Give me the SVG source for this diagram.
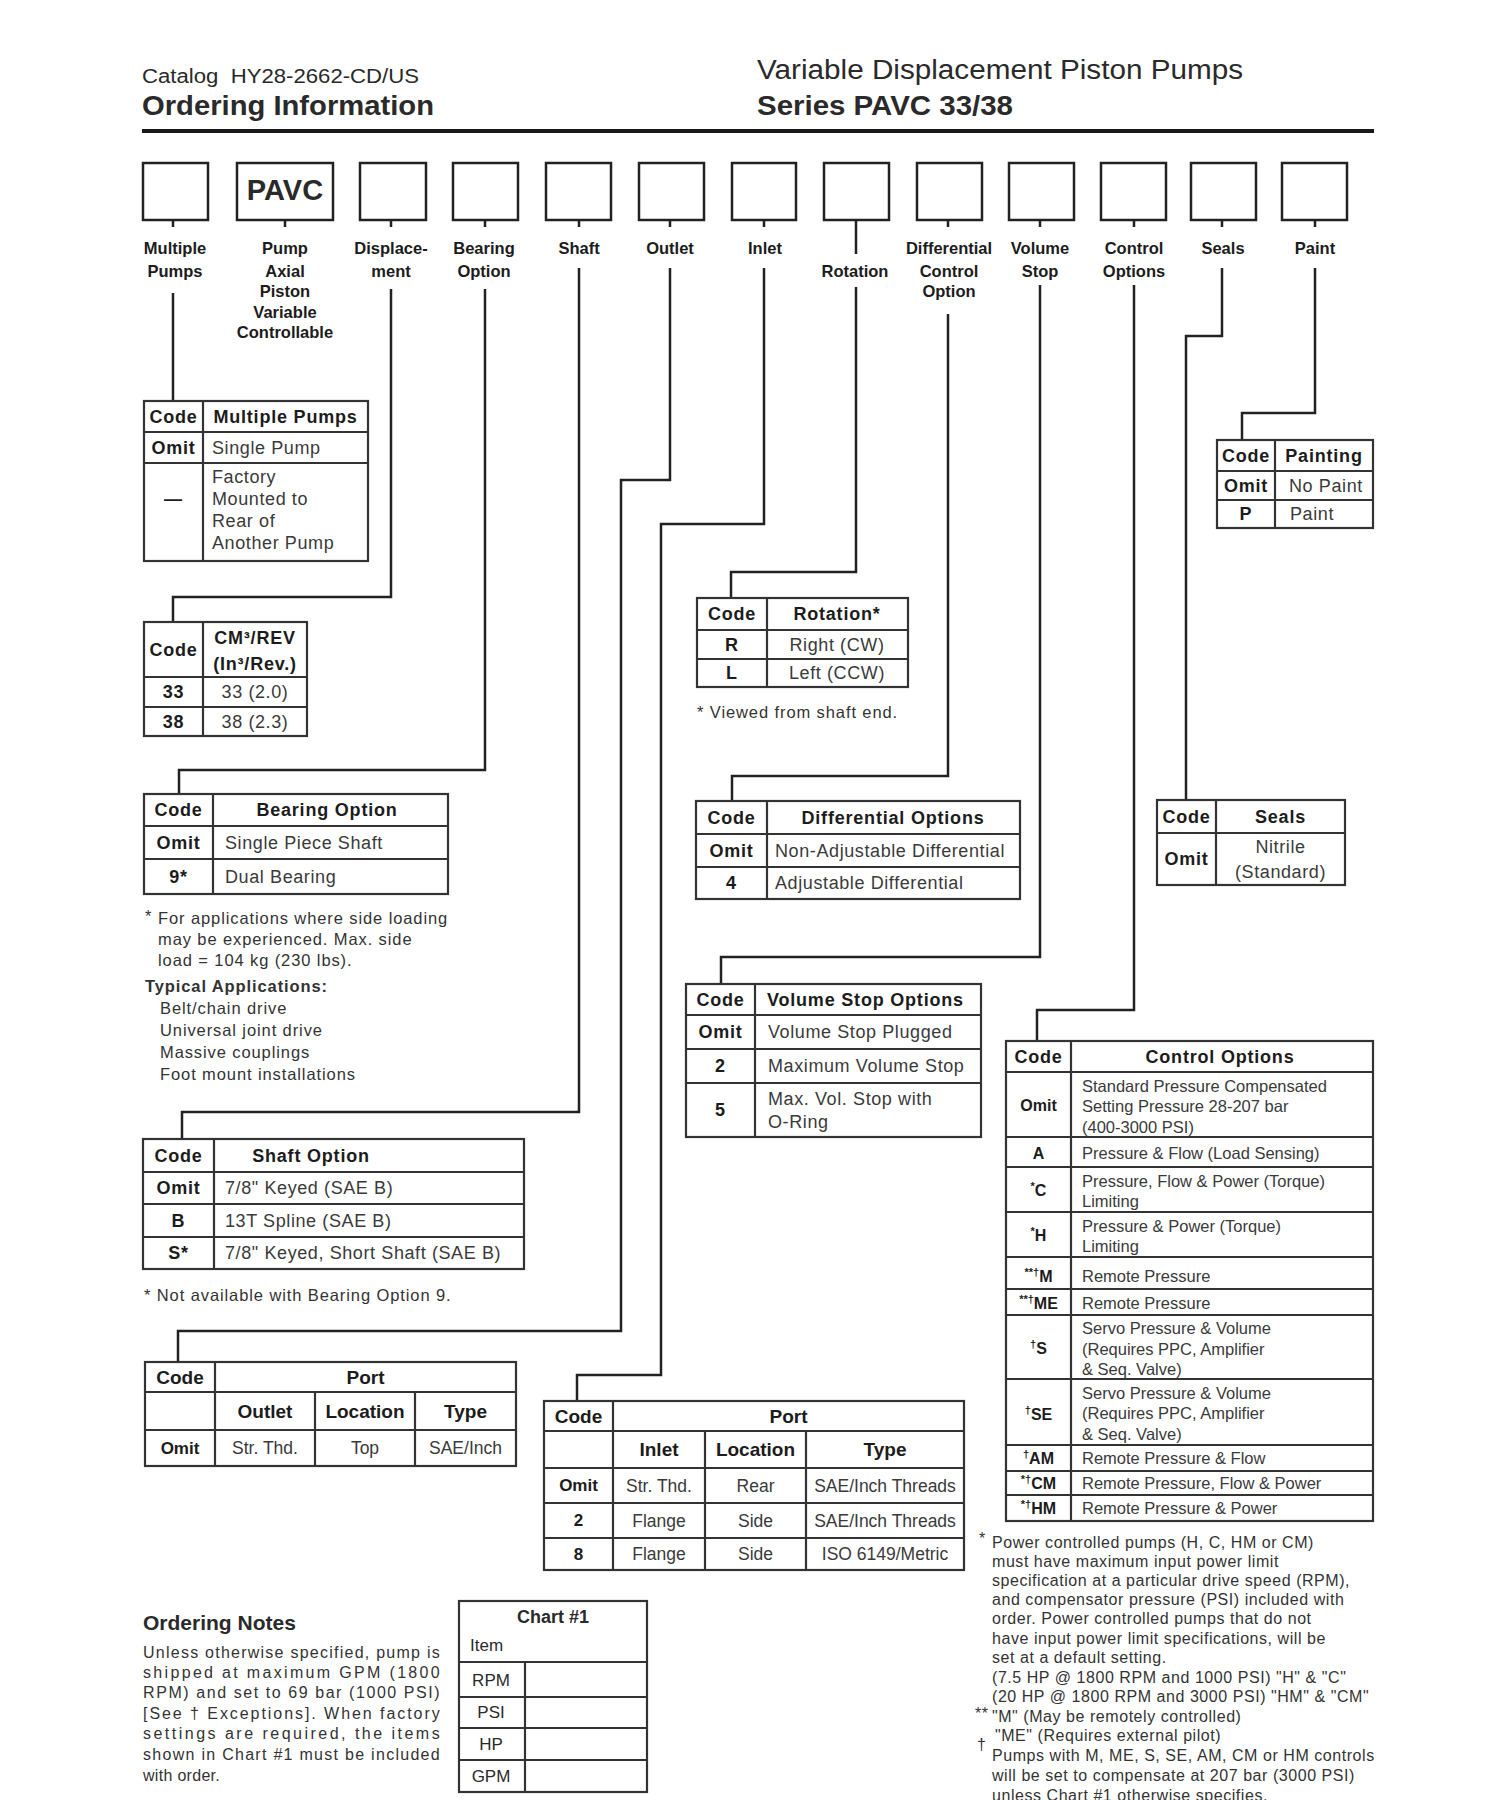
<svg xmlns="http://www.w3.org/2000/svg" width="1500" height="1800" viewBox="0 0 1500 1800">
<style>
text{font-family:"Liberation Sans",Arial,Helvetica,sans-serif;fill:#2a2a2a;dominant-baseline:central}
.c{text-anchor:middle}
.th{font-size:18px;font-weight:bold;letter-spacing:0.8px;fill:#1c1c1c}
.td{font-size:18px;letter-spacing:0.6px;fill:#3a3a3a}
.lab{font-size:16.5px;font-weight:bold;fill:#1c1c1c;text-anchor:middle}
.fn{font-size:16px;letter-spacing:0.3px;fill:#333}
.fc{font-size:16px;letter-spacing:0.55px;fill:#333}
.fw{font-size:16.5px;letter-spacing:0.9px;fill:#333}
.cs{font-size:16.5px;fill:#3a3a3a}
.cc{font-size:16px;font-weight:bold;fill:#1c1c1c;text-anchor:middle}
.ph{font-size:19px;font-weight:bold;fill:#1c1c1c;text-anchor:middle}
.ps{font-size:17.5px;fill:#3a3a3a;text-anchor:middle}
.pc{font-size:17px;font-weight:bold;fill:#1c1c1c;text-anchor:middle}
.box{fill:#fff;stroke:#222;stroke-width:2.5}
.tbl{fill:#fff;stroke:#333;stroke-width:2.2}
.ln{stroke:#333;stroke-width:2.2;fill:none}
.conn{fill:none;stroke:#222;stroke-width:2.5}
</style>

<g id="header">
<text x="142" y="76" font-size="20" textLength="277" lengthAdjust="spacingAndGlyphs" fill="#333" xml:space="preserve">Catalog  HY28-2662-CD/US</text>
<text x="142" y="106" font-size="27" font-weight="bold" textLength="292" lengthAdjust="spacingAndGlyphs" fill="#1a1a1a">Ordering Information</text>
<text x="757" y="70" font-size="27" textLength="486" lengthAdjust="spacingAndGlyphs" fill="#333">Variable Displacement Piston Pumps</text>
<text x="757" y="106" font-size="27" font-weight="bold" textLength="256" lengthAdjust="spacingAndGlyphs" fill="#1a1a1a">Series PAVC 33/38</text>
<rect x="142" y="129" width="1232" height="4" fill="#1a1a1a"/>
</g>

<g id="code-boxes">
<g id="box-multiple"><rect class="box" x="143" y="163" width="65" height="57"/></g>
<g id="box-pavc"><rect class="box" x="237" y="163" width="96" height="57"/><text x="285" y="190" class="c" font-size="29" font-weight="bold" fill="#1a1a1a">PAVC</text></g>
<g id="box-displacement"><rect class="box" x="360" y="163" width="66" height="57"/></g>
<g id="box-bearing"><rect class="box" x="453" y="163" width="65" height="57"/></g>
<g id="box-shaft"><rect class="box" x="546" y="163" width="65" height="57"/></g>
<g id="box-outlet"><rect class="box" x="639" y="163" width="65" height="57"/></g>
<g id="box-inlet"><rect class="box" x="732" y="163" width="64" height="57"/></g>
<g id="box-rotation"><rect class="box" x="824" y="163" width="65" height="57"/></g>
<g id="box-differential"><rect class="box" x="917" y="163" width="65" height="57"/></g>
<g id="box-volume"><rect class="box" x="1009" y="163" width="65" height="57"/></g>
<g id="box-control"><rect class="box" x="1101" y="163" width="65" height="57"/></g>
<g id="box-seals"><rect class="box" x="1191" y="163" width="65" height="57"/></g>
<g id="box-paint"><rect class="box" x="1282" y="163" width="65" height="57"/></g>
</g>

<g id="labels">
<text class="lab" x="175" y="248">Multiple</text><text class="lab" x="175" y="271">Pumps</text>
<text class="lab" x="285" y="248">Pump</text><text class="lab" x="285" y="271">Axial</text><text class="lab" x="285" y="291">Piston</text><text class="lab" x="285" y="312">Variable</text><text class="lab" x="285" y="332">Controllable</text>
<text class="lab" x="391" y="248">Displace-</text><text class="lab" x="391" y="271">ment</text>
<text class="lab" x="484" y="248">Bearing</text><text class="lab" x="484" y="271">Option</text>
<text class="lab" x="579" y="248">Shaft</text>
<text class="lab" x="670" y="248">Outlet</text>
<text class="lab" x="765" y="248">Inlet</text>
<text class="lab" x="855" y="271">Rotation</text>
<text class="lab" x="949" y="248">Differential</text><text class="lab" x="949" y="271">Control</text><text class="lab" x="949" y="291">Option</text>
<text class="lab" x="1040" y="248">Volume</text><text class="lab" x="1040" y="271">Stop</text>
<text class="lab" x="1134" y="248">Control</text><text class="lab" x="1134" y="271">Options</text>
<text class="lab" x="1223" y="248">Seals</text>
<text class="lab" x="1315" y="248">Paint</text>
</g>

<g id="connectors" class="conn">
<path d="M173 220V227M285 220V227M391 220V227M485 220V227M579 220V227M670 220V227M764 220V227M948 220V227M1040 220V227M1134 220V227M1222 220V227M1315 220V227"/>
<path d="M173 293V401"/>
<path d="M391 289V597H173V622"/>
<path d="M485 289V770H179V794"/>
<path d="M579 268V1112H182V1139"/>
<path d="M670 268V480H621V1331H178V1362"/>
<path d="M764 268V524H661V1375H577V1401"/>
<path d="M856 220V254M856 287V572H731V598"/>
<path d="M948 314V776H732V801"/>
<path d="M1040 285V957H721V984"/>
<path d="M1134 285V1010H1037V1041"/>
<path d="M1222 268V336H1186V800"/>
<path d="M1315 268V413H1242V440"/>
</g>

<g id="t-multiple">
<rect class="tbl" x="144" y="401" width="224" height="160"/>
<path class="ln" d="M144 432H368M144 463H368M203 401V561"/>
<text class="th c" x="173.5" y="416.5">Code</text>
<text class="th c" x="285.5" y="416.5">Multiple Pumps</text>
<text class="th c" x="173.5" y="447.5">Omit</text>
<text class="td" x="212" y="447.5">Single Pump</text>
<text class="th c" x="173.5" y="499">—</text>
<text class="td" x="212" y="477">Factory</text>
<text class="td" x="212" y="499">Mounted to</text>
<text class="td" x="212" y="521">Rear of</text>
<text class="td" x="212" y="543">Another Pump</text>
</g>

<g id="t-displacement">
<rect class="tbl" x="144" y="622" width="163" height="114"/>
<path class="ln" d="M144 677H307M144 707H307M203 622V736"/>
<text class="th c" x="173.5" y="649.5">Code</text>
<text class="th c" x="255" y="638">CM³/REV</text>
<text class="th c" x="255" y="664">(In³/Rev.)</text>
<text class="th c" x="173.5" y="692">33</text>
<text class="td c" x="255" y="692">33 (2.0)</text>
<text class="th c" x="173.5" y="721.5">38</text>
<text class="td c" x="255" y="721.5">38 (2.3)</text>
</g>

<g id="t-bearing">
<rect class="tbl" x="144" y="794" width="304" height="100"/>
<path class="ln" d="M144 826H448M144 859H448M213 794V894"/>
<text class="th c" x="178.5" y="810">Code</text>
<text class="th c" x="327" y="810">Bearing Option</text>
<text class="th c" x="178.5" y="842.5">Omit</text>
<text class="td" x="225" y="842.5">Single Piece Shaft</text>
<text class="th c" x="178.5" y="876.5">9*</text>
<text class="td" x="225" y="876.5">Dual Bearing</text>
</g>
<g id="bearing-notes">
<text class="fw" x="145" y="916">*</text>
<text class="fw" x="158" y="918">For applications where side loading</text>
<text class="fw" x="158" y="939">may be experienced. Max. side</text>
<text class="fw" x="158" y="960">load = 104 kg (230 lbs).</text>
<text class="fw" x="145" y="986" font-weight="bold" fill="#1c1c1c">Typical Applications:</text>
<text class="fw" x="160" y="1008">Belt/chain drive</text>
<text class="fw" x="160" y="1030">Universal joint drive</text>
<text class="fw" x="160" y="1052">Massive couplings</text>
<text class="fw" x="160" y="1074">Foot mount installations</text>
</g>

<g id="t-shaft">
<rect class="tbl" x="143" y="1139" width="381" height="130"/>
<path class="ln" d="M143 1172H524M143 1204H524M143 1237H524M214 1139V1269"/>
<text class="th c" x="178.5" y="1155.5">Code</text>
<text class="th c" x="311" y="1155.5">Shaft Option</text>
<text class="th c" x="178.5" y="1188">Omit</text>
<text class="td" x="225" y="1188">7/8" Keyed (SAE B)</text>
<text class="th c" x="178.5" y="1220.5">B</text>
<text class="td" x="225" y="1220.5">13T Spline (SAE B)</text>
<text class="th c" x="178.5" y="1253">S*</text>
<text class="td" x="225" y="1253">7/8" Keyed, Short Shaft (SAE B)</text>
</g>
<text class="fw" x="144" y="1295">* Not available with Bearing Option 9.</text>

<g id="t-rotation">
<rect class="tbl" x="697" y="598" width="211" height="89"/>
<path class="ln" d="M697 630H908M697 659H908M767 598V687"/>
<text class="th c" x="732" y="614">Code</text>
<text class="th c" x="837" y="614">Rotation*</text>
<text class="th c" x="732" y="644.5">R</text>
<text class="td c" x="837" y="644.5">Right (CW)</text>
<text class="th c" x="732" y="673">L</text>
<text class="td c" x="837" y="673">Left (CCW)</text>
</g>
<text class="fw" x="697" y="712">* Viewed from shaft end.</text>

<g id="t-differential">
<rect class="tbl" x="696" y="801" width="324" height="98"/>
<path class="ln" d="M696 834H1020M696 867H1020M767 801V899"/>
<text class="th c" x="731.5" y="817.5">Code</text>
<text class="th c" x="893" y="817.5">Differential Options</text>
<text class="th c" x="731.5" y="850.5">Omit</text>
<text class="td" x="775" y="850.5">Non-Adjustable Differential</text>
<text class="th c" x="731.5" y="883">4</text>
<text class="td" x="775" y="883">Adjustable Differential</text>
</g>

<g id="t-volume">
<rect class="tbl" x="686" y="984" width="295" height="153"/>
<path class="ln" d="M686 1015H981M686 1049H981M686 1083H981M755 984V1137"/>
<text class="th c" x="720.5" y="999.5">Code</text>
<text class="th" x="767" y="999.5">Volume Stop Options</text>
<text class="th c" x="720.5" y="1032">Omit</text>
<text class="td" x="768" y="1032">Volume Stop Plugged</text>
<text class="th c" x="720.5" y="1066">2</text>
<text class="td" x="768" y="1066">Maximum Volume Stop</text>
<text class="th c" x="720.5" y="1110">5</text>
<text class="td" x="768" y="1099">Max. Vol. Stop with</text>
<text class="td" x="768" y="1122">O-Ring</text>
</g>

<g id="t-painting">
<rect class="tbl" x="1217" y="440" width="156" height="88"/>
<path class="ln" d="M1217 471H1373M1217 500H1373M1275 440V528"/>
<text class="th c" x="1246" y="455.5">Code</text>
<text class="th c" x="1324" y="455.5">Painting</text>
<text class="th c" x="1246" y="485.5">Omit</text>
<text class="td" x="1289" y="485.5">No Paint</text>
<text class="th c" x="1246" y="514">P</text>
<text class="td" x="1290" y="514">Paint</text>
</g>

<g id="t-seals">
<rect class="tbl" x="1157" y="800" width="188" height="85"/>
<path class="ln" d="M1157 833H1345M1216 800V885"/>
<text class="th c" x="1186.5" y="816.5">Code</text>
<text class="th c" x="1280.5" y="816.5">Seals</text>
<text class="th c" x="1186.5" y="859">Omit</text>
<text class="td c" x="1280.5" y="847">Nitrile</text>
<text class="td c" x="1280.5" y="872">(Standard)</text>
</g>

<g id="t-control">
<rect class="tbl" x="1006" y="1041" width="367" height="480"/>
<path class="ln" d="M1006 1072H1373M1006 1137H1373M1006 1167H1373M1006 1212H1373M1006 1257H1373M1006 1289H1373M1006 1315H1373M1006 1379H1373M1006 1445H1373M1006 1471H1373M1006 1495H1373M1071 1041V1521"/>
<text class="th c" x="1038.5" y="1057">Code</text>
<text class="th c" x="1220" y="1057">Control Options</text>
<text class="cc" x="1038.5" y="1105">Omit</text>
<text class="cs" x="1082" y="1086">Standard Pressure Compensated</text>
<text class="cs" x="1082" y="1106">Setting Pressure 28-207 bar</text>
<text class="cs" x="1082" y="1127">(400-3000 PSI)</text>
<text class="cc" x="1038.5" y="1153">A</text>
<text class="cs" x="1082" y="1153">Pressure &amp; Flow (Load Sensing)</text>
<text class="cc" x="1038.5" y="1190"><tspan font-size="11" dy="-4">*</tspan><tspan dy="4">C</tspan></text>
<text class="cs" x="1082" y="1181">Pressure, Flow &amp; Power (Torque)</text>
<text class="cs" x="1082" y="1201">Limiting</text>
<text class="cc" x="1038.5" y="1235"><tspan font-size="11" dy="-4">*</tspan><tspan dy="4">H</tspan></text>
<text class="cs" x="1082" y="1226">Pressure &amp; Power (Torque)</text>
<text class="cs" x="1082" y="1246">Limiting</text>
<text class="cc" x="1038.5" y="1276"><tspan font-size="11" dy="-4">**†</tspan><tspan dy="4">M</tspan></text>
<text class="cs" x="1082" y="1276">Remote Pressure</text>
<text class="cc" x="1038.5" y="1303"><tspan font-size="11" dy="-4">**†</tspan><tspan dy="4">ME</tspan></text>
<text class="cs" x="1082" y="1303">Remote Pressure</text>
<text class="cc" x="1038.5" y="1348"><tspan font-size="11" dy="-4">†</tspan><tspan dy="4">S</tspan></text>
<text class="cs" x="1082" y="1328">Servo Pressure &amp; Volume</text>
<text class="cs" x="1082" y="1349">(Requires PPC, Amplifier</text>
<text class="cs" x="1082" y="1369">&amp; Seq. Valve)</text>
<text class="cc" x="1038.5" y="1414"><tspan font-size="11" dy="-4">†</tspan><tspan dy="4">SE</tspan></text>
<text class="cs" x="1082" y="1393">Servo Pressure &amp; Volume</text>
<text class="cs" x="1082" y="1413">(Requires PPC, Amplifier</text>
<text class="cs" x="1082" y="1434">&amp; Seq. Valve)</text>
<text class="cc" x="1038.5" y="1458"><tspan font-size="11" dy="-4">†</tspan><tspan dy="4">AM</tspan></text>
<text class="cs" x="1082" y="1458">Remote Pressure &amp; Flow</text>
<text class="cc" x="1038.5" y="1483"><tspan font-size="11" dy="-4">*†</tspan><tspan dy="4">CM</tspan></text>
<text class="cs" x="1082" y="1483">Remote Pressure, Flow &amp; Power</text>
<text class="cc" x="1038.5" y="1508"><tspan font-size="11" dy="-4">*†</tspan><tspan dy="4">HM</tspan></text>
<text class="cs" x="1082" y="1508">Remote Pressure &amp; Power</text>
</g>

<g id="control-notes">
<text class="fc" x="979" y="1538">*</text>
<text class="fc" x="992" y="1542">Power controlled pumps (H, C, HM or CM)</text>
<text class="fc" x="992" y="1561">must have maximum input power limit</text>
<text class="fc" x="992" y="1580">specification at a particular drive speed (RPM),</text>
<text class="fc" x="992" y="1599">and compensator pressure (PSI) included with</text>
<text class="fc" x="992" y="1618">order. Power controlled pumps that do not</text>
<text class="fc" x="992" y="1638">have input power limit specifications, will be</text>
<text class="fc" x="992" y="1657">set at a default setting.</text>
<text class="fc" x="992" y="1677">(7.5 HP @ 1800 RPM and 1000 PSI) "H" &amp; "C"</text>
<text class="fc" x="992" y="1696">(20 HP @ 1800 RPM and 3000 PSI) "HM" &amp; "CM"</text>
<text class="fc" x="975" y="1713">**</text>
<text class="fc" x="992" y="1716">"M" (May be remotely controlled)</text>
<text class="fc" x="995" y="1735">"ME" (Requires external pilot)</text>
<text class="fc" x="977" y="1744">†</text>
<text class="fc" x="992" y="1755">Pumps with M, ME, S, SE, AM, CM or HM controls</text>
<text class="fc" x="992" y="1775">will be set to compensate at 207 bar (3000 PSI)</text>
<text class="fc" x="992" y="1795">unless Chart #1 otherwise specifies.</text>
</g>

<g id="t-outlet">
<rect class="tbl" x="145" y="1362" width="371" height="104"/>
<path class="ln" d="M145 1392H516M145 1430H516M215 1362V1466M315 1392V1466M415 1392V1466"/>
<text class="ph" x="180" y="1377" font-size="18">Code</text>
<text class="ph" x="365.5" y="1377" font-size="18">Port</text>
<text class="ph" x="265" y="1411">Outlet</text>
<text class="ph" x="365" y="1411">Location</text>
<text class="ph" x="465.5" y="1411">Type</text>
<text class="pc" x="180" y="1448">Omit</text>
<text class="ps" x="265" y="1448">Str. Thd.</text>
<text class="ps" x="365" y="1448">Top</text>
<text class="ps" x="465.5" y="1448">SAE/Inch</text>
</g>

<g id="t-inlet">
<rect class="tbl" x="544" y="1401" width="420" height="169"/>
<path class="ln" d="M544 1431H964M544 1468H964M544 1503H964M544 1538H964M613 1401V1570M705 1431V1570M806 1431V1570"/>
<text class="ph" x="578.5" y="1416" font-size="18">Code</text>
<text class="ph" x="788.5" y="1416" font-size="18">Port</text>
<text class="ph" x="659" y="1449.5">Inlet</text>
<text class="ph" x="755.5" y="1449.5">Location</text>
<text class="ph" x="885" y="1449.5">Type</text>
<text class="pc" x="578.5" y="1485.5">Omit</text>
<text class="ps" x="659" y="1485.5">Str. Thd.</text>
<text class="ps" x="755.5" y="1485.5">Rear</text>
<text class="ps" x="885" y="1485.5">SAE/Inch Threads</text>
<text class="pc" x="578.5" y="1520.5">2</text>
<text class="ps" x="659" y="1520.5">Flange</text>
<text class="ps" x="755.5" y="1520.5">Side</text>
<text class="ps" x="885" y="1520.5">SAE/Inch Threads</text>
<text class="pc" x="578.5" y="1554">8</text>
<text class="ps" x="659" y="1554">Flange</text>
<text class="ps" x="755.5" y="1554">Side</text>
<text class="ps" x="885" y="1554">ISO 6149/Metric</text>
</g>

<g id="ordering-notes">
<text x="143" y="1622" font-size="21" font-weight="bold" fill="#1c1c1c">Ordering Notes</text>
<text class="fn" x="143" y="1652" font-size="16.5" textLength="297" lengthAdjust="spacing">Unless otherwise specified, pump is</text>
<text class="fn" x="143" y="1672" font-size="16.5" textLength="297" lengthAdjust="spacing">shipped at maximum GPM (1800</text>
<text class="fn" x="143" y="1692" font-size="16.5" textLength="297" lengthAdjust="spacing">RPM) and set to 69 bar (1000 PSI)</text>
<text class="fn" x="143" y="1713" font-size="16.5" textLength="297" lengthAdjust="spacing">[See † Exceptions]. When factory</text>
<text class="fn" x="143" y="1733" font-size="16.5" textLength="297" lengthAdjust="spacing">settings are required, the items</text>
<text class="fn" x="143" y="1754" font-size="16.5" textLength="297" lengthAdjust="spacing">shown in Chart #1 must be included</text>
<text class="fn" x="143" y="1775" font-size="16.5">with order.</text>
</g>

<g id="t-chart">
<rect class="tbl" x="459" y="1601" width="188" height="191"/>
<path class="ln" d="M459 1662H647M459 1697H647M459 1728H647M459 1760H647M525 1662V1792"/>
<text x="553" y="1617" class="c" font-size="18" font-weight="bold" fill="#1c1c1c">Chart #1</text>
<text x="470" y="1645" font-size="17" fill="#3a3a3a">Item</text>
<text x="491" y="1680" class="c" font-size="17" fill="#3a3a3a">RPM</text>
<text x="491" y="1712" class="c" font-size="17" fill="#3a3a3a">PSI</text>
<text x="491" y="1744" class="c" font-size="17" fill="#3a3a3a">HP</text>
<text x="491" y="1776" class="c" font-size="17" fill="#3a3a3a">GPM</text>
</g>
</svg>
